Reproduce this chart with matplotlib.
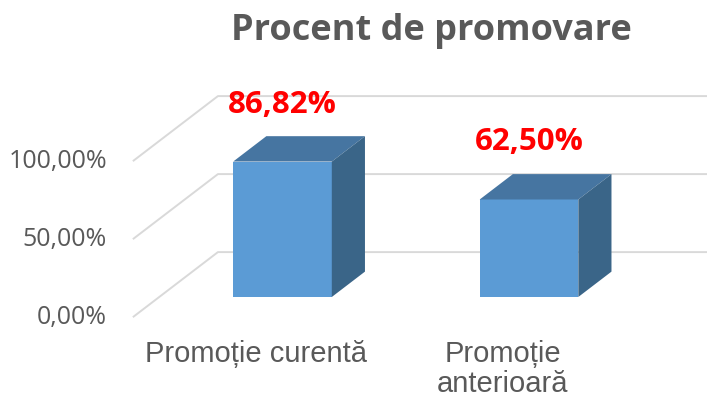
import matplotlib.pyplot as plt
import numpy as np

# date
categorii = ['Promoție curentă', 'Promoție\nanterioară']
valori = [86.82, 62.50]
etichete = ['86,82%', '62,50%']
ticks = [0, 50, 100]
tick_labels = ['0,00%', '50,00%', '100,00%']

# proiectie oblica (aspect 3D ca in Excel)
DX = 0.345   # deplasare pe x pentru adancime 1
DY = 41.7    # deplasare pe y pentru adancime 1
z_fata = 0.31
z_spate = 0.70
latime = 0.40


def proj(x, z, y):
    return x + z * DX, y + z * DY


fig = plt.figure(figsize=(7.07, 4.0), dpi=100)
ax = fig.add_axes([0, 0, 1, 1])
ax.set_xlim(-1.039, 1.829)
ax.set_ylim(-53.1, 203.3)
ax.axis('off')

# linii de grila (perete stang + perete spate)
for t, lab in zip(ticks, tick_labels):
    p0 = proj(-0.5, 0, t)
    p1 = proj(-0.5, 1, t)
    p2 = proj(1.5, 1, t)
    ax.plot([p0[0], p1[0], p2[0]], [p0[1], p1[1], p2[1]],
            color='#d9d9d9', lw=1.4, zorder=1, solid_capstyle='butt')
    ax.annotate(lab, p0, xytext=(-26, 0), textcoords='offset pixels',
                ha='right', va='center', fontsize=18, color='#595959',
                family='Open Sans')

# bare
c_fata = '#5b9bd5'
c_sus = '#4675a1'
c_lat = '#3a6588'
for i, v in enumerate(valori):
    xl = i - latime / 2
    xr = i + latime / 2
    ax.bar(i + z_fata * DX, v, width=latime, bottom=z_fata * DY,
           color=c_fata, zorder=3, lw=0)
    # fata de sus
    sus = [proj(xl, z_fata, v), proj(xr, z_fata, v),
           proj(xr, z_spate, v), proj(xl, z_spate, v)]
    ax.add_patch(plt.Polygon(sus, closed=True, color=c_sus, lw=0, zorder=3))
    # fata laterala
    lat = [proj(xr, z_fata, 0), proj(xr, z_spate, 0),
           proj(xr, z_spate, v), proj(xr, z_fata, v)]
    ax.add_patch(plt.Polygon(lat, closed=True, color=c_lat, lw=0, zorder=3))
    # eticheta valoare
    ax.annotate(etichete[i], proj(i, z_fata, v), xytext=(0, 49),
                textcoords='offset pixels', ha='center', va='baseline',
                fontsize=22.5, fontweight='bold', color='#ff0000',
                family='Open Sans')

# etichete categorii
for i, c in enumerate(categorii):
    ax.annotate(c, proj(i, 0, 0), xytext=(0, -23), textcoords='offset pixels',
                ha='center', va='top', fontsize=21, color='#595959',
                family='Liberation Sans', linespacing=1.1)

fig.text(431.5 / 707, 1 - 31 / 400, 'Procent de promovare', ha='center',
         va='center', fontsize=26, fontweight='bold', color='#595959',
         family='Open Sans')

fig.savefig('out.png', dpi=100)
